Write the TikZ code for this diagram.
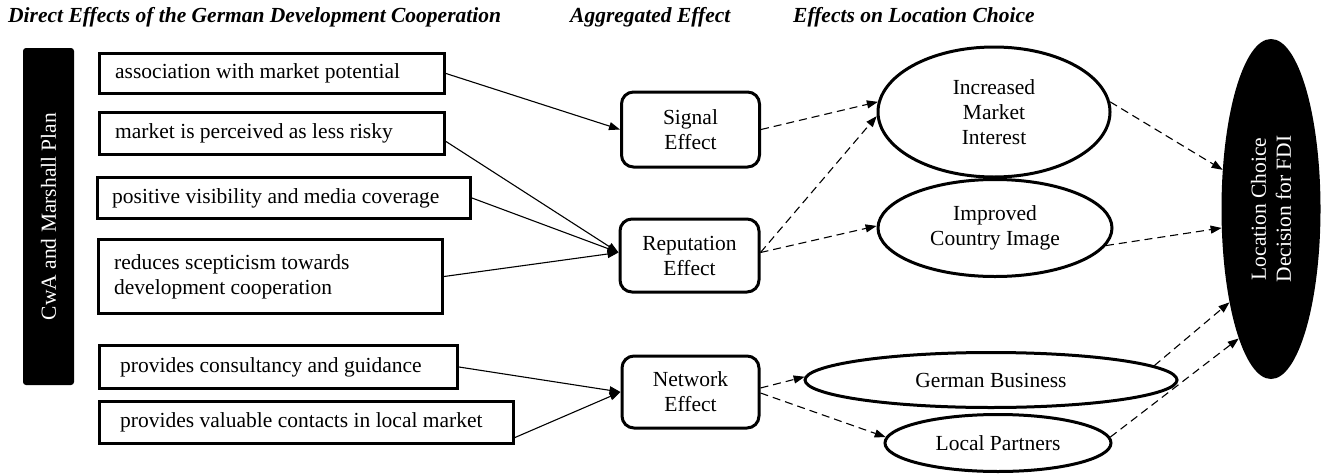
\documentclass[tikz,border=0pt]{standalone}
\usepackage{fontspec}
\setmainfont{Liberation Serif}
\usetikzlibrary{arrows.meta,shapes.geometric}
\begin{document}
\begin{tikzpicture}[x=1pt,y=-1pt,
  font=\fontsize{21.5}{25}\selectfont,
  effbox/.style={draw, line width=3pt, inner sep=0pt, anchor=north west},
  efftext/.style={anchor=west, align=left, inner sep=0pt},
  aggbox/.style={draw, line width=3pt, rounded corners=12pt, align=center, inner sep=0pt},
  oval/.style={draw, ellipse, line width=3pt, inner sep=0pt, align=center},
  head/.style={anchor=base west, font=\fontsize{21.5}{25}\selectfont\bfseries\itshape, inner sep=0pt},
  solidarrow/.style={line width=1.1pt, -{Triangle[length=11pt,width=8pt]}},
  dasharrow/.style={line width=1.1pt, dash pattern=on 8pt off 5pt, -{Triangle[length=11pt,width=8pt]}}
]
\useasboundingbox (0,0) rectangle (1325,474);

% headers
\node[head] (h1) at (8,22) {Direct Effects of the German Development Cooperation};
\node[head] (h2) at (570,22) {Aggregated Effect};
\node[head] (h3) at (793,22) {Effects on Location Choice};

% CwA box
\node[fill=black, rounded corners=3pt, minimum width=51pt, minimum height=337pt, inner sep=0pt] (cwa) at (48.5,216.5) {};
\node[rotate=90, text=white, inner sep=0pt] (cwat) at (cwa.center) {CwA and Marshall Plan};

% direct effect boxes
\node[effbox, minimum width=345pt, minimum height=40pt] (b1) at (98,52) {};
\node[efftext] (t1) at ([xshift=17pt]b1.west) {association with market potential};
\node[effbox, minimum width=345pt, minimum height=42pt] (b2) at (98,111) {};
\node[efftext] (t2) at ([xshift=17pt]b2.west) {market is perceived as less risky};
\node[effbox, minimum width=373pt, minimum height=41pt] (b3) at (96,176) {};
\node[efftext] (t3) at ([xshift=16pt]b3.west) {positive visibility and media coverage};
\node[effbox, minimum width=344pt, minimum height=74pt] (b4) at (97,238) {};
\node[efftext] (t4) at ([xshift=17pt]b4.west) {reduces scepticism towards\\development cooperation};
\node[effbox, minimum width=358pt, minimum height=43pt] (b5) at (98,344) {};
\node[efftext] (t5) at ([xshift=22pt]b5.west) {provides consultancy and guidance};
\node[effbox, minimum width=414pt, minimum height=42pt] (b6) at (98,400) {};
\node[efftext] (t6) at ([xshift=22pt]b6.west) {provides valuable contacts in local market};

% aggregated effects
\node[aggbox, minimum width=138pt, minimum height=75pt] (sig) at (690.5,129.5) {Signal\\Effect};
\node[aggbox, minimum width=139pt, minimum height=73pt] (rep) at (689.5,255.5) {Reputation\\Effect};
\node[aggbox, minimum width=137pt, minimum height=72pt] (net) at (690.5,392) {Network\\Effect};

% location choice effects
\node[oval, minimum width=232pt, minimum height=130pt] (imi) at (994,112) {Increased\\Market\\Interest};
\node[oval, minimum width=234pt, minimum height=97pt] (ici) at (995,228) {Improved\\Country Image};
\node[oval, minimum width=372pt, minimum height=55pt] (gb) at (991,380) {German Business};
\node[oval, minimum width=226pt, minimum height=57pt] (lp) at (998,443) {Local Partners};

% final decision
\node[ellipse, fill=black, minimum width=99pt, minimum height=340pt, inner sep=0pt] (lc) at (1271,209) {};
\node[rotate=90, text=white, align=center, inner sep=0pt] (lct) at (lc.center) {Location Choice\\Decision for FDI};

% solid arrows
\draw[solidarrow] (b1.east) -- (sig.west);
\draw[solidarrow] ([yshift=-8pt]b2.east) -- ([yshift=3pt]rep.west);
\draw[solidarrow] (b3.east) -- ([yshift=3pt]rep.west);
\draw[solidarrow] (b4.east) -- ([yshift=3pt]rep.west);
\draw[solidarrow] (b5.east) -- (net.west);
\draw[solidarrow] ([yshift=-15pt]b6.east) -- (net.west);

% dashed arrows
\draw[dasharrow] (sig.east) -- (imi.175);
\draw[dasharrow] ([yshift=3pt]rep.east) -- (imi.182);
\draw[dasharrow] ([yshift=3pt]rep.east) -- (ici.179);
\draw[dasharrow] ([yshift=4pt]net.east) -- (gb.179);
\draw[dasharrow] ([yshift=-1pt]net.east) -- (lp.177);
\draw[dasharrow] (imi.5) -- (lc.141);
\draw[dasharrow] (ici.-9) -- (lc.201);
\draw[dasharrow] (gb.5) -- (lc.246);
\draw[dasharrow] (lp.3) -- (lc.256);
\end{tikzpicture}
\end{document}
